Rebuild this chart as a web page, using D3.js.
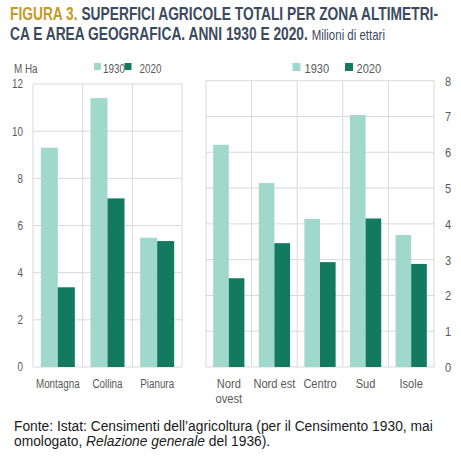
<!DOCTYPE html>
<html>
<head>
<meta charset="utf-8">
<script src="https://cdn.jsdelivr.net/npm/d3@7/dist/d3.min.js"></script>
<style>
  body { margin: 0; background: #fff; }
  svg text { font-family: "Liberation Sans", Arial, sans-serif; }
</style>
</head>
<body>
<div id="chart"></div>
<script>
// data
var series = ["1930", "2020"];
var zone = ["Montagna", "Collina", "Pianura"];
var zone1930 = [9.3, 11.4, 5.48];
var zone2020 = [3.38, 7.15, 5.34];
var aree = ["Nord ovest", "Nord est", "Centro", "Sud", "Isole"];
var aree1930 = [6.21, 5.14, 4.14, 7.04, 3.69];
var aree2020 = [2.48, 3.46, 2.93, 4.15, 2.88];
var zoneTicks = [0, 2, 4, 6, 8, 10, 12];
var areeTicks = [0, 1, 2, 3, 4, 5, 6, 7, 8];

var colors = {"1930": "#a0d9cc", "2020": "#137a5f"};
var grid = "#d9d9d9";
var txt = "#595959";

var svg = d3.select("#chart").append("svg")
    .attr("width", 461).attr("height", 456);

// squeeze a text horizontally to imitate a narrow face
function narrow(sel, k, target) {
  sel.each(function() {
    var w = this.getComputedTextLength();
    this.setAttribute("textLength", target || w * k);
    this.setAttribute("lengthAdjust", "spacingAndGlyphs");
  });
}

// title
var t1 = svg.append("text").attr("x", 10).attr("y", 19.5)
    .style("font-size", "18px").style("font-weight", "bold");
t1.append("tspan").attr("fill", "#c49a2a").text("FIGURA 3. ");
t1.append("tspan").attr("fill", "#3c4a5e").text("SUPERFICI AGRICOLE TOTALI PER ZONA ALTIMETRI-");
narrow(t1, 0, 428);
var t2 = svg.append("text").attr("x", 10).attr("y", 39.5)
    .style("font-size", "18px").style("font-weight", "bold").attr("fill", "#3c4a5e");
t2.append("tspan").text("CA E AREA GEOGRAFICA. ANNI 1930 E 2020. ");
t2.append("tspan").style("font-weight", "normal").style("font-size", "15px").text("Milioni di ettari");
narrow(t2, 0, 375);

function panel(opts) {
  var data = opts.cats.map(function(c, i) {
    return {cat: c, "1930": opts.v1930[i], "2020": opts.v2020[i]};
  });
  var x0 = d3.scaleBand().domain(opts.cats).range([opts.left, opts.right]);
  var x1 = d3.scaleBand().domain(series).range([0, x0.bandwidth()]).paddingOuter(0.46);
  var y = d3.scaleLinear().domain([0, opts.max]).range([367, opts.top]);

  var g = svg.append("g");
  // horizontal grid
  g.selectAll(".hg").data(opts.ticks).enter().append("line")
    .attr("x1", opts.left).attr("x2", opts.right)
    .attr("y1", function(d) { return y(d); }).attr("y2", function(d) { return y(d); })
    .attr("stroke", grid).attr("stroke-width", 1);
  // vertical separators
  var seps = opts.cats.map(function(c) { return x0(c); }).concat([opts.right]);
  g.selectAll(".vg").data(seps).enter().append("line")
    .attr("x1", function(d) { return d; }).attr("x2", function(d) { return d; })
    .attr("y1", y(opts.max)).attr("y2", y(0))
    .attr("stroke", grid).attr("stroke-width", 1);

  // bars
  var grp = g.selectAll(".cat").data(data).enter().append("g")
    .attr("transform", function(d) { return "translate(" + x0(d.cat) + ",0)"; });
  grp.selectAll("rect").data(function(d) {
      return series.map(function(s) { return {s: s, v: d[s]}; });
    }).enter().append("rect")
    .attr("x", function(d) { return x1(d.s); })
    .attr("width", x1.bandwidth())
    .attr("y", function(d) { return y(d.v); })
    .attr("height", function(d) { return y(0) - y(d.v); })
    .attr("fill", function(d) { return colors[d.s]; });

  // y labels
  g.selectAll(".yl").data(opts.ticks).enter().append("text")
    .attr("x", opts.yLabelX)
    .attr("y", function(d) { return y(d) + opts.fs * 0.37; })
    .attr("text-anchor", opts.yAnchor)
    .attr("fill", txt).style("font-size", opts.fs + "px")
    .text(function(d) { return d; })
    .call(narrow, 0.82);

  // category labels
  g.selectAll(".xl").data(opts.cats).enter().append("g")
    .each(function(d) {
      var el = d3.select(this);
      var parts = opts.wrap && d.indexOf("ovest") >= 0 ? d.split(" ") : [d];
      parts.forEach(function(p, i) {
        el.append("text").attr("x", x0(d) + x0.bandwidth() / 2)
          .attr("y", 388 + i * 14.5)
          .attr("text-anchor", "middle")
          .attr("fill", txt).style("font-size", opts.fs + "px")
          .text(p).call(narrow, 0.82);
      });
    });

  // legend
  opts.legend.forEach(function(l, i) {
    g.append("rect").attr("x", l.sq).attr("y", 63).attr("width", opts.sq).attr("height", opts.sq)
      .attr("fill", colors[series[i]]);
    g.append("text").attr("x", l.tx).attr("y", 72.5).attr("fill", txt)
      .style("font-size", opts.fs + "px").text(series[i]).call(narrow, 0.82);
  });
}

panel({
  cats: zone, v1930: zone1930, v2020: zone2020, ticks: zoneTicks, max: 12,
  left: 33, right: 182, top: 84, fs: 12, yLabelX: 23, yAnchor: "end",
  sq: 7, legend: [{sq: 94, tx: 103}, {sq: 124.5, tx: 139.5}]
});
svg.append("text").attr("x", 14).attr("y", 73).attr("fill", txt)
  .style("font-size", "12px").text("M Ha").call(narrow, 0.82);

panel({
  cats: aree, v1930: aree1930, v2020: aree2020, ticks: areeTicks, max: 8,
  left: 206, right: 434, top: 80.7, fs: 13.5, yLabelX: 445, yAnchor: "start", wrap: true,
  sq: 8, legend: [{sq: 292.5, tx: 304.5}, {sq: 345, tx: 356.5}]
});

// note
svg.append("text").attr("x", 14).attr("y", 431)
  .attr("fill", "#1a1a1a").style("font-size", "13.8px")
  .text("Fonte: Istat: Censimenti dell\u2019agricoltura (per il Censimento 1930, mai");
var n2 = svg.append("text").attr("x", 14).attr("y", 446)
  .attr("fill", "#1a1a1a").style("font-size", "13.8px");
n2.append("tspan").text("omologato, ");
n2.append("tspan").style("font-style", "italic").text("Relazione generale");
n2.append("tspan").text(" del 1936).");
</script>
</body>
</html>
